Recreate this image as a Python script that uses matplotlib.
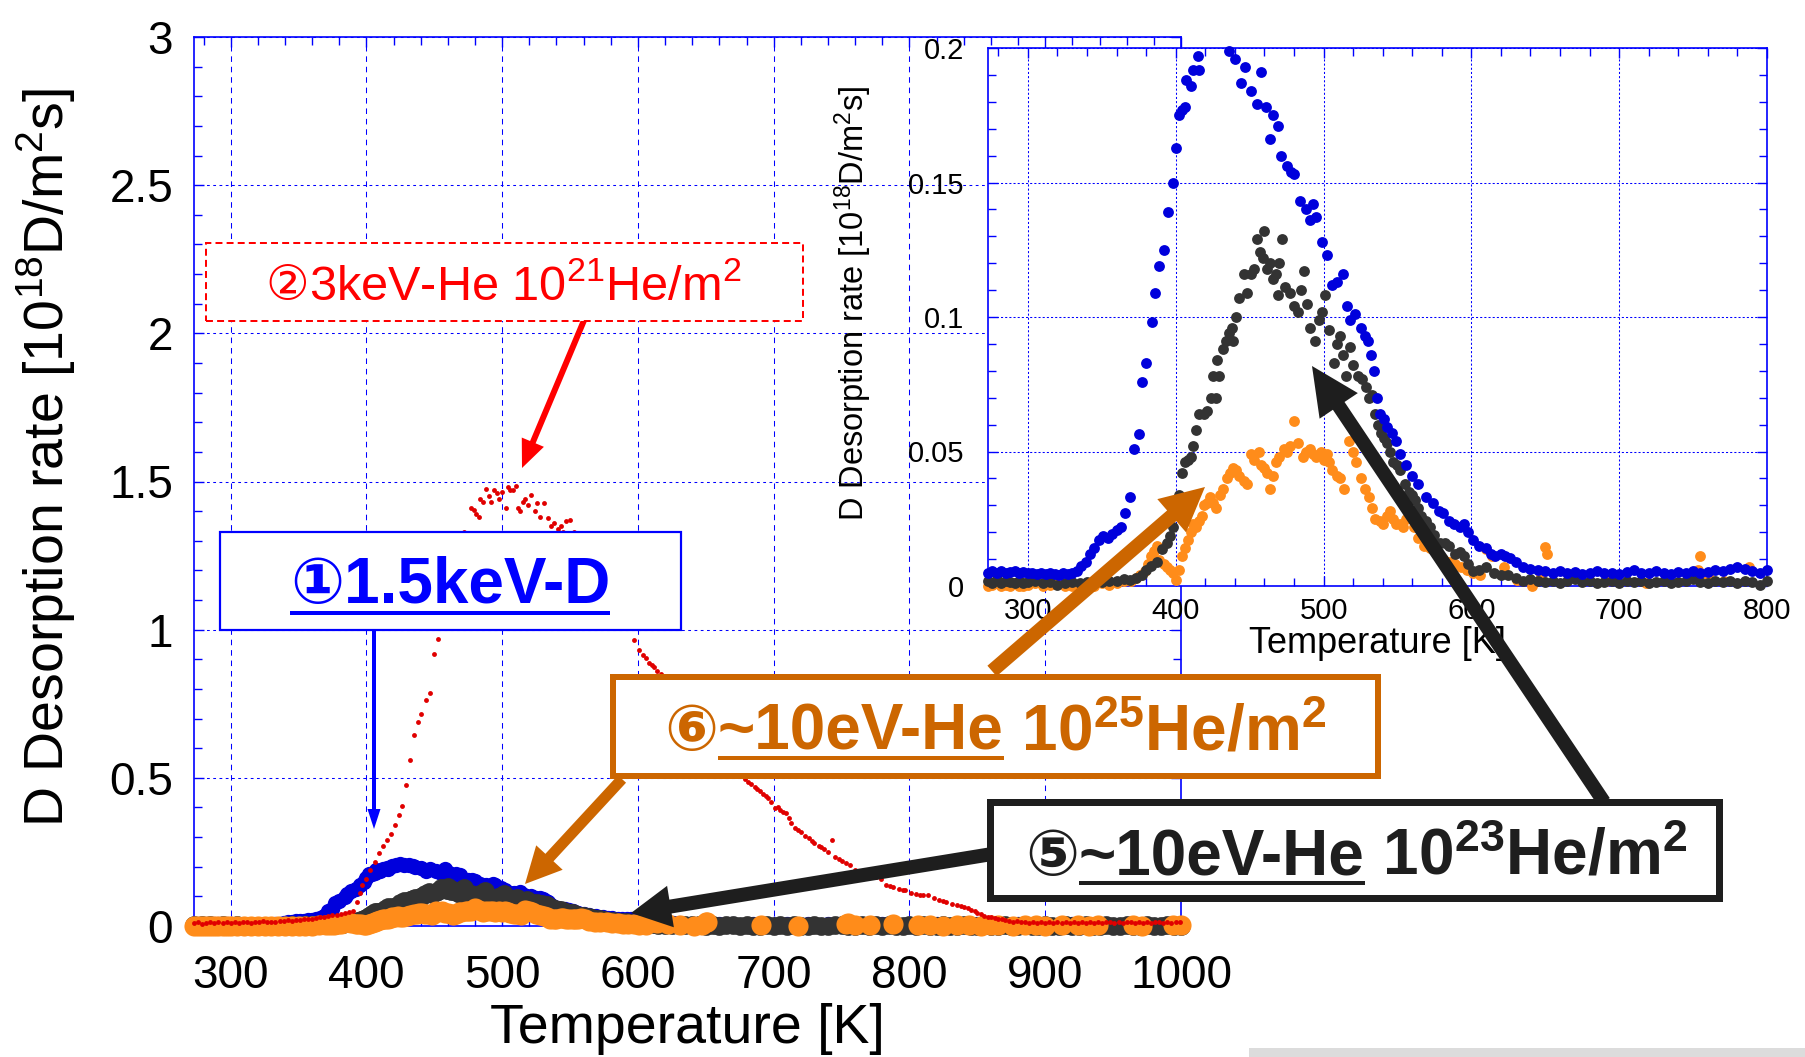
import matplotlib
matplotlib.use('Agg')
import matplotlib.pyplot as plt
from matplotlib.patches import Rectangle, FancyArrowPatch, ArrowStyle
from matplotlib.lines import Line2D
from matplotlib.ticker import MultipleLocator, FuncFormatter

# ---------------- data (Temperature [K], D desorption rate [1e18 D/m2 s]) ----------------
blue_pts = [(273,.0050),(276,.0055),(279,.0050),(282,.0055),(285,.0050),(288,.0052),(291,.0055),(294,.0050),
    (297,.0052),(300,.0048),(303,.0050),(306,.0045),(309,.0048),(312,.0045),(315,.0050),(318,.0045),(321,.0042),
    (324,.0048),(327,.0045),(330,.0050),(333,.0055),(336,.0075),(339,.0090),(342,.0120),(345,.0140),(348,.0170),
    (351,.0185),(354,.0180),(357,.0195),(360,.0210),(363,.0220),(366,.0270),(369,.0330),(372,.0510),(375,.0566),
    (377,.0760),(380,.0830),(384,.0980),(386,.1090),(389,.1190),(392,.1250),(395,.1390),(398,.1500),(400,.1630),
    (402,.1750),(404,.1770),(406,.1780),(407,.1880),(410,.1860),(412,.1920),(415,.1970),(416,.1920),(419,.2030),
    (422,.2060),(425,.2080),(428,.2070),(431,.2050),(434,.2030),(436,.1990),(440,.1960),(444,.1870),(447,.1930),
    (451,.1840),(455,.1790),(458,.1910),(461,.1780),(464,.1660),(466,.1750),(469,.1710),(471,.1600),(475,.1560),
    (478,.1540),(480,.1530),(484,.1430),(488,.1400),(491,.1360),(493,.1420),(495,.1370),(499,.1280),(502,.1230),
    (506,.1120),(509,.1130),(513,.1160),(516,.1040),(518,.0990),(521,.1010),(525,.0960),(528,.0930),(530,.0910),
    (532,.0860),(534,.0800),(536,.0700),(538,.0640),(541,.0620),(543,.0590),(546,.0570),(549,.0540),(552,.0490),
    (556,.0450),(560,.0410),(564,.0380),(569,.0330),(574,.0310),(578,.0280),(581,.0270),(585,.0240),(588,.0230),
    (592,.0220),(595,.0230),(598,.0200),(601,.0170),(605,.0150),(610,.0140),(613,.0120),(616,.0110),(620,.0120),
    (623,.0110),(626,.0105),(630,.0090),(635,.0070),(640,.0065),(645,.0060),(650,.0055),(655,.0050),(660,.0055),
    (665,.0048),(670,.0052),(675,.0045),(680,.0050),(685,.0055),(690,.0048),(695,.0050),(700,.0045),(705,.0052),
    (710,.0060),(715,.0050),(720,.0048),(725,.0055),(730,.0050),(735,.0045),(740,.0052),(745,.0050),(750,.0055),
    (755,.0048),(760,.0052),(765,.0060),(770,.0055),(775,.0065),(780,.0070),(785,.0062),(790,.0055),(795,.0050),
    (800,.0058),(810,.0050),(820,.0055),(830,.0048),(840,.0050),(850,.0052),(860,.0048),(870,.0050),(880,.0055),
    (890,.0050),(900,.0048),(910,.0050),(920,.0052),(930,.0050),(940,.0048),(950,.0050),(960,.0055),(970,.0050),
    (980,.0048),(990,.0050),(1000,.0052)]

dark_pts = [(273,.002),(276,.001),(279,.0025),(282,.001),(285,.002),(288,.0015),(291,.001),(294,.002),(297,.001),
    (300,.0015),(305,.002),(310,.001),(315,.0015),(320,.0005),(325,.001),(330,.0015),(335,.001),(340,.0015),
    (345,.002),(350,.0015),(355,.002),(360,.002),(365,.0025),(369,.0024),(373,.003),(377,.004),(380,.006),
    (383,.0073),(387,.009),(391,.0138),(394,.016),(396,.0186),(398,.022),(400,.027),(402,.034),(404,.042),
    (406,.046),(408,.047),(410,.048),(412,.052),(414,.058),(416,.064),(419,.064),(421,.065),(424,.070),(425,.078),
    (427,.070),(428,.084),(429,.078),(432,.088),(434,.091),(436,.094),(438,.096),(439,.091),(441,.100),(443,.107),
    (446,.116),(448,.109),(451,.116),(453,.118),(455,.129),(457,.124),(459,.122),(460,.132),(462,.118),(464,.120),
    (466,.114),(468,.116),(469,.108),(470,.120),(472,.129),(474,.111),(477,.109),(480,.104),(483,.102),(485,.110),
    (487,.117),(489,.105),(491,.096),(494,.091),(497,.099),(499,.102),(501,.108),(504,.095),(507,.083),(509,.090),
    (511,.093),(513,.086),(515,.078),(518,.089),(520,.082),(523,.078),(526,.077),(529,.074),(531,.070),(533,.071),
    (535,.064),(537,.060),(539,.057),(541,.055),(543,.053),(545,.050),(547,.046),(550,.045),(552,.043),(555,.038),
    (558,.035),(560,.034),(562,.032),(564,.029),(566,.026),(569,.024),(572,.022),(575,.019),(579,.016),(582,.016),
    (585,.015),(589,.012),(592,.0125),(595,.011),(598,.008),(601,.0057),(605,.006),(610,.007),(615,.005),(620,.004),
    (625,.004),(630,.003),(635,.002),(640,.0025),(645,.002),(650,.0015),(655,.002),(660,.001),(665,.002),(670,.0025),
    (675,.0015),(680,.002),(685,.001),(690,.0015),(695,.002),(700,.001),(705,.002),(710,.0015),(715,.002),(720,.001),
    (725,.0015),(730,.002),(735,.001),(740,.0015),(745,.002),(750,.0025),(755,.0015),(760,.001),(765,.002),
    (770,.0015),(775,.002),(780,.001),(785,.002),(790,.0015),(795,.0005),(800,.002),(805,.0015),(810,.002),
    (815,.001),(820,.0015),(825,.002),(830,.001),(835,.0015),(840,.002),(845,.001),(850,.0015),(855,.002),(860,.001),
    (865,.0015),(870,.002),(875,.001),(880,.0015),(885,.002),(890,.001),(895,.0015),(900,.002),(905,.001),
    (910,.0015),(915,.002),(920,.001),(925,.0015),(930,.002),(935,.001),(940,.0015),(945,.002),(950,.001),
    (955,.0015),(960,.002),(965,.001),(970,.0015),(975,.002),(980,.001),(985,.0015),(990,.002),(995,.001),(1000,.0015)]

orange_pts = [(273,.0),(276,.0005),(279,.001),(282,.0),(285,.0005),(288,.0),(291,.001),(294,.0),(297,.0),(300,.0005),
    (305,.001),(310,.0),(315,.0005),(320,.001),(325,.0),(330,.0),(335,.0005),(340,.001),(345,.0),(350,.001),
    (355,.0005),(360,.001),(365,.002),(370,.002),(373,.003),(376,.004),(379,.0057),(381,.008),(383,.011),(385,.013),
    (387,.015),(389,.0097),(392,.008),(394,.007),(396,.006),(398,.005),(400,.0024),(402,.006),(404,.011),(406,.014),
    (408,.017),(410,.020),(412,.023),(414,.022),(416,.024),(418,.026),(419,.030),(421,.031),(423,.033),(425,.031),
    (427,.029),(430,.034),(432,.036),(435,.040),(437,.042),(439,.044),(441,.043),(443,.041),(446,.039),(448,.038),
    (451,.049),(453,.047),(456,.050),(458,.045),(460,.044),(462,.042),(464,.036),(466,.041),(468,.046),(470,.048),
    (473,.051),(475,.050),(477,.052),(480,.0615),(483,.053),(486,.048),(488,.050),(491,.051),(493,.049),(495,.048),
    (498,.050),(500,.047),(502,.049),(504,.046),(506,.043),(509,.041),(511,.040),(514,.036),(517,.054),(520,.050),
    (522,.046),(525,.040),(528,.036),(531,.033),(533,.029),(535,.025),(538,.024),(540,.023),(543,.026),(545,.028),
    (547,.025),(549,.023),(552,.023),(554,.022),(556,.025),(558,.028),(561,.022),(564,.018),(568,.015),(572,.014),
    (577,.012),(581,.010),(585,.009),(589,.008),(593,.007),(597,.006),(601,.005),(606,.004),(610,.0138),(614,.011),
    (622,.007),(631,.0024),(641,.0),(647,.004),(650,.0146),(651,.012),(691,.002),(718,.001),(753,.006),(755,.011),
    (760,.004),(771,.002),(788,.007),(806,.002),(815,.003),(825,.001),(835,.002),(844,.003),(853,.001),(860,.002),
    (865,.003),(876,.001),(885,.002),(893,.003),(900,.001),(912,.002),(924,.003),(932,.001),(939,.002),(965,.003),
    (971,.001),(994,.002),(1000,.003)]

red_pts = [(273,.010),(276,.012),(279,.008),(282,.011),(285,.013),(288,.009),(291,.012),(294,.010),(297,.014),
    (300,.011),(303,.013),(306,.010),(309,.012),(312,.015),(315,.011),(318,.014),(321,.012),(324,.016),(327,.013),
    (330,.015),(333,.014),(336,.017),(339,.016),(342,.019),(345,.018),(348,.021),(351,.020),(354,.023),(357,.025),
    (360,.024),(363,.027),(366,.030),(369,.029),(372,.033),(375,.036),(378,.038),(381,.042),(384,.045),(387,.048),
    (390,.050),(393,.080),(395,.110),(397,.139),(400,.160),(403,.190),(406,.216),(409,.245),(412,.270),(415,.290),
    (418,.311),(421,.340),(424,.375),(426,.406),(429,.477),(432,.560),(435,.644),(438,.690),(440,.715),(444,.762),
    (447,.786),(450,.917),(453,.970),(457,1.05),(462,1.15),(467,1.25),(472,1.33),(477,1.409),(479,1.405),(481,1.39),
    (483,1.38),(484,1.44),(486,1.43),(488,1.476),(490,1.45),(492,1.43),(494,1.47),(496,1.46),(498,1.44),(500,1.465),
    (503,1.41),(504,1.48),(506,1.47),(508,1.47),(510,1.485),(512,1.41),(513,1.40),(515,1.43),(517,1.44),(519,1.42),
    (521,1.456),(524,1.40),(526,1.427),(528,1.38),(531,1.427),(534,1.376),(536,1.35),(538,1.36),(541,1.34),
    (543,1.35),(545,1.33),(547,1.368),(550,1.37),(553,1.33),(556,1.29),(560,1.25),(565,1.20),(570,1.15),(575,1.12),
    (580,1.09),(585,1.06),(590,1.03),(594,1.013),(597,.964),(601,.930),(604,.913),(606,.905),(608,.889),(610,.880),
    (612,.875),(614,.862),(617,.850),(620,.835),(624,.820),(626,.800),(629,.786),(633,.760),(637,.735),(641,.710),
    (645,.685),(649,.655),(653,.625),(657,.600),(661,.575),(665,.555),(669,.535),(673,.515),(676,.505),(679,.497),
    (681,.485),(683,.479),(686,.470),(688,.462),(690,.457),(692,.447),(694,.440),(696,.432),(698,.420),(701,.398),
    (703,.400),(705,.390),(707,.385),(709,.382),(711,.365),(713,.347),(716,.330),(718,.325),(720,.318),(723,.305),
    (726,.296),(728,.288),(730,.280),(733,.270),(735,.265),(737,.260),(740,.250),(743,.289),(745,.232),(748,.225),
    (750,.220),(753,.212),(756,.205),(760,.190),(763,.185),(767,.180),(771,.173),(775,.165),(779,.157),(783,.140),
    (786,.135),(788,.130),(792,.125),(795,.122),(797,.120),(801,.110),(805,.109),(808,.106),(810,.105),(814,.103),
    (818,.095),(822,.088),(825,.085),(827,.082),(831,.075),(835,.071),(838,.068),(840,.065),(843,.060),(845,.055),
    (848,.050),(850,.045),(853,.040),(855,.035),(858,.032),(860,.030),(863,.027),(865,.025),(868,.022),(870,.020),
    (873,.018),(876,.015),(879,.017),(882,.012),(885,.015),(888,.011),(891,.014),(894,.010),(897,.013),(900,.011),
    (903,.014),(906,.009),(909,.012),(912,.010),(915,.013),(918,.011),(921,.015),(924,.010),(927,.012),(930,.009),
    (933,.013),(936,.011),(939,.014),(942,.010),(945,.012),(948,.015),(951,.011),(954,.013),(957,.009),(960,.012),
    (963,.014),(966,.010),(969,.013),(972,.011),(975,.015),(978,.010),(981,.012),(984,.014),(987,.011),(990,.013),
    (993,.010),(996,.014),(999,.012)]

main_xticks = [300, 400, 500, 600, 700, 800, 900, 1000]
main_yticks = [0, 0.5, 1, 1.5, 2, 2.5, 3]
inset_xticks = [300, 400, 500, 600, 700, 800]
inset_yticks = [0, 0.05, 0.1, 0.15, 0.2]

label_1 = '①1.5keV-D'
label_2 = ('②', '3keV-He 10$\\mathregular{^{21}}$He/m$\\mathregular{^{2}}$')
label_6 = ('⑥', '~10eV-He', ' 10$\\mathregular{^{25}}$He/m$\\mathregular{^{2}}$')
label_5 = ('⑤', '~10eV-He', ' 10$\\mathregular{^{23}}$He/m$\\mathregular{^{2}}$')
ylab = 'D Desorption rate [10$\\mathregular{^{18}}$D/m$\\mathregular{^{2}}$s]'
xlab = 'Temperature [K]'

# ---------------- style ----------------
W, H = 1805, 1057
FAM = ['Liberation Sans', 'DejaVu Sans']
plt.rcParams['font.family'] = FAM
plt.rcParams['lines.scale_dashes'] = False

C_BLUE = '#0000DC'
C_DARK = '#333333'
C_ORANGE = '#FF8C1A'
C_RED = '#E00000'
C_AX = '#0000FF'
C_ORANGE_ANN = '#CC6600'
C_BLACK_ANN = '#1E1E1E'

fig = plt.figure(figsize=(W / 100, H / 100), dpi=100)


def fx(p):
    return p / W


def fy(p):
    return 1 - p / H


def rect(l, t, r, b):
    return [fx(l), fy(b), (r - l) / W, (b - t) / H]


def unzip(pts):
    return [p[0] for p in pts], [p[1] for p in pts]


fmt = FuncFormatter(lambda v, p: f'{v:g}')


def style_axes(a, xt, yt, xminor, yminor, fs, xpad, ypad, grid_v, grid_h):
    for s in a.spines.values():
        s.set_color(C_AX)
        s.set_linewidth(1.2)
    a.set_xticks(xt)
    a.set_yticks(yt)
    a.xaxis.set_minor_locator(MultipleLocator(xminor))
    a.yaxis.set_minor_locator(MultipleLocator(yminor))
    a.xaxis.set_major_formatter(fmt)
    a.yaxis.set_major_formatter(fmt)
    a.tick_params(which='both', direction='in', color=C_AX, top=True, right=True, width=1.0)
    a.tick_params(which='major', length=7)
    a.tick_params(which='minor', length=5.5)
    a.tick_params(axis='x', labelsize=fs, pad=xpad)
    a.tick_params(axis='y', labelsize=fs, pad=ypad)
    a.set_axisbelow(True)
    a.grid(True, axis='x', which='major', color=C_AX, lw=0.75, ls=grid_v)
    a.grid(True, axis='y', which='major', color=C_AX, lw=0.75, ls=grid_h)


# ---------------- main axes ----------------
ax = fig.add_axes(rect(194, 37, 1181, 926))
ax.set_xlim(273, 1000)
ax.set_ylim(0, 3)
style_axes(ax, main_xticks, main_yticks, 20, 0.1, 33, 20, 15, (0, (4, 3.5)), (0, (2, 2.5)))

bx, by = unzip(blue_pts)
dx, dy = unzip(dark_pts)
ox, oy = unzip(orange_pts)
rx, ry = unzip(red_pts)

ax.plot(bx, by, 'o', ms=11, color=C_BLUE, mew=0, clip_on=False, zorder=3)
ax.plot(dx, dy, 'o', ms=13.5, color=C_DARK, mew=0, clip_on=False, zorder=4)
ax.plot(ox, oy, 'o', ms=14.5, color=C_ORANGE, mew=0, clip_on=False, zorder=5)
ax.plot(rx, ry, 'o', ms=3.5, color=C_RED, mew=0, clip_on=False, zorder=6)

ax.set_ylabel(ylab, fontsize=40)
ax.yaxis.set_label_coords(-0.1175, 0.527)
ax.set_xlabel(xlab, fontsize=40)
ax.xaxis.set_label_coords(0.5, -0.087)

# ---------------- inset ----------------
ins = fig.add_axes(rect(988, 48, 1767, 586))
ins.set_xlim(273, 800)
ins.set_ylim(0, 0.2)
style_axes(ins, inset_xticks, inset_yticks, 20, 0.01, 21, 8, 17, (0, (1.5, 1.5)), (0, (1.5, 1.5)))


def in_range(pts):
    return unzip([p for p in pts if p[0] <= 800 and p[1] <= 0.2])


ix, iy = in_range(orange_pts)
ins.plot(ix, iy, 'o', ms=7.8, color=C_ORANGE, mew=0, clip_on=False, zorder=3)
ix, iy = in_range(dark_pts)
ins.plot(ix, iy, 'o', ms=7.8, color=C_DARK, mew=0, clip_on=False, zorder=4)
ix, iy = in_range(blue_pts)
ins.plot(ix, iy, 'o', ms=7.8, color=C_BLUE, mew=0, clip_on=False, zorder=5)

ins.set_ylabel(ylab, fontsize=23.5)
ins.yaxis.set_label_coords(-0.146, 0.526)
ins.set_xlabel(xlab, fontsize=26)
ins.xaxis.set_label_coords(0.5, -0.074)

# ---------------- annotations ----------------
fig.add_artist(Rectangle((fx(1249), fy(1057)), (1805 - 1249) / W, 9 / H, transform=fig.transFigure,
                         color='#DCDCDC', lw=0, zorder=1))


def arrow(x0, y0, x1, y1, color, tail, hw, hl):
    st = ArrowStyle.Simple(head_length=hl * 0.72, head_width=hw * 0.72, tail_width=tail * 0.72)
    fig.add_artist(FancyArrowPatch((fx(x0), fy(y0)), (fx(x1), fy(y1)), transform=fig.transFigure,
                                   arrowstyle=st, mutation_scale=1, color=color, lw=0,
                                   shrinkA=0, shrinkB=0, zorder=3))


def box(l, t, r, b, ec, lw, ls='-'):
    fig.add_artist(Rectangle((fx(l), fy(b)), (r - l) / W, (b - t) / H, transform=fig.transFigure,
                             fc='white', ec=ec, lw=lw * 0.72, ls=ls, zorder=4))


def rich_text(cx, base, parts, color, size, weight='normal', ul_off=9, ul_lw=4):
    r = fig.canvas.get_renderer()
    items = []
    for s, ul in parts:
        t = fig.text(0, 0, s, color=color, fontsize=size, fontweight=weight, family=FAM,
                     ha='left', va='baseline', zorder=6)
        w = t.get_window_extent(renderer=r).width
        items.append((t, w, ul))
    x = cx - sum(w for _, w, _ in items) / 2
    for t, w, ul in items:
        t.set_position((fx(x), fy(base)))
        if ul:
            fig.add_artist(Line2D([fx(x), fx(x + w)], [fy(base + ul_off)] * 2, transform=fig.transFigure,
                                  color=color, lw=ul_lw * 0.72, solid_capstyle='butt', zorder=6))
        x += w


# arrows
arrow(585, 318, 522, 468, '#FF0000', 6, 24, 28)
arrow(374, 630, 374, 829, '#0000FF', 4, 13, 20)
arrow(622, 779, 525, 884, C_ORANGE_ANN, 11, 36, 36)
arrow(992, 671, 1205, 487, C_ORANGE_ANN, 14, 44, 44)
arrow(992, 854, 631, 913, C_BLACK_ANN, 14, 42, 40)
arrow(1604, 802, 1312, 366, C_BLACK_ANN, 14, 46, 48)

# boxes
box(206, 243, 803, 321, '#FF0000', 2, (0, (5, 3)))
box(220, 532, 681, 630, '#0000FF', 2.2)
box(613, 677, 1378, 776, C_ORANGE_ANN, 6)
box(990, 802, 1719, 898, C_BLACK_ANN, 7)

# texts
rich_text(503, 300, [(label_2[0], False), (label_2[1], False)], '#FF0000', 35)
rich_text(450, 603, [(label_1, True)], '#0000FF', 46, 'bold', ul_off=10, ul_lw=4)
rich_text(995, 750, [(label_6[0], False), (label_6[1], True), (label_6[2], False)], C_ORANGE_ANN, 46, 'bold',
          ul_off=8, ul_lw=4)
rich_text(1356, 875, [(label_5[0], False), (label_5[1], True), (label_5[2], False)], C_BLACK_ANN, 46, 'bold',
          ul_off=8, ul_lw=4)

fig.savefig('out.png', dpi=100)
